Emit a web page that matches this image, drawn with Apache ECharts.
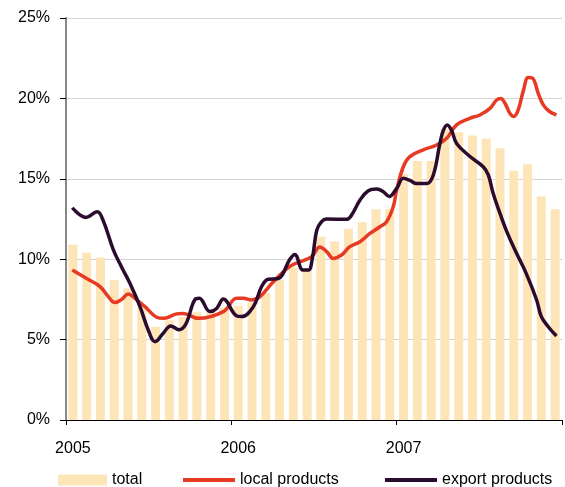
<!DOCTYPE html>
<html>
<head>
<meta charset="utf-8">
<script src="https://cdn.jsdelivr.net/npm/echarts@6/dist/echarts.min.js"></script>
<style>
	html, body { margin: 0; padding: 0; background: #fff; }
	#chart { width: 565px; height: 487px; }
</style>
</head>
<body>
<div id="chart"></div>
<script>
	'use strict';

	// monthly categories, 2005-2007
	var years = ['2005', '2006', '2007'];
	var months = [];
	years.forEach(function(y) {
		for (var m = 1; m <= 12; m++) {
			months.push(y + '-' + (m < 10 ? '0' + m : m));
		}
	});

	// TOTAL (bars, %)
	var totalValues = [10.9, 10.4, 10.1, 8.7, 8.2, 7.1, 5.8, 6.2, 6.4, 6.7, 6.7, 7.0,
		7.1, 7.3, 7.9, 8.7, 9.5, 9.3, 11.4, 11.1, 11.9, 12.3, 13.1, 13.1,
		15.3, 16.1, 16.1, 18.1, 17.9, 17.7, 17.5, 16.9, 15.5, 15.9, 13.9, 13.1];

	// LOCAL PRODUCTS (position in months from Jan 2005, %)
	var localMonths = [0.46, 1.5, 2.47, 3.07, 3.56, 4.04, 4.52, 5.0, 5.73, 6.58, 7.1, 8.03, 8.5, 9.6,
		11.42, 12.39, 12.87, 13.47, 14.08, 15.05, 16.25, 16.98, 17.83, 18.43, 18.92, 19.4, 20.0,
		20.6, 21.34, 22.06, 22.79, 23.27, 23.75, 24.0, 24.48, 24.96, 25.93, 26.9, 27.63, 28.35,
		29.3, 30.04, 30.77, 31.25, 31.55, 31.86, 32.22, 32.5, 32.82, 33.2, 33.55, 33.87, 34.28,
		34.64, 35.12, 35.6];
	var localValues = [9.33, 8.8, 8.3, 7.67, 7.3, 7.5, 7.84, 7.57, 7.05, 6.39, 6.32, 6.6, 6.63, 6.32,
		6.74, 7.57, 7.57, 7.46, 7.67, 8.6, 9.55, 9.84, 10.16, 10.76, 10.47, 10.05, 10.26,
		10.78, 11.09, 11.6, 12.02, 12.33, 13.26, 14.3, 15.75, 16.38, 16.8, 17.1, 17.52, 18.35,
		18.76, 18.97, 19.38, 19.9, 20.0, 19.7, 19.07, 18.87, 19.28, 20.5, 21.3, 21.25, 20.3,
		19.6, 19.17, 18.97];

	// EXPORT PRODUCTS
	var exportMonths = [0.46, 1.45, 2.27, 2.7, 3.43, 4.04, 4.64, 5.37, 5.97, 6.46, 7.06, 7.6, 8.2,
		8.7, 9.36, 9.67, 10.45, 10.93, 11.42, 12.39, 12.75, 13.6, 14.2, 14.68, 15.4, 16.25,
		16.6, 17.2, 17.6, 17.9, 18.2, 18.55, 18.9, 20.37, 20.73, 21.34, 21.94, 22.55, 23.03,
		23.45, 24.0, 24.48, 24.96, 25.45, 26.17, 26.66, 27.14, 27.38, 27.67, 27.99, 28.35,
		29.3, 30.28, 30.65, 31.0, 31.5, 32.0, 32.7, 33.4, 34.16, 34.5, 35.0, 35.6];
	var exportValues = [13.2, 12.6, 12.95, 12.4, 10.6, 9.5, 8.5, 7.05, 5.6, 4.87, 5.4, 5.85, 5.62,
		5.97, 7.5, 7.57, 6.74, 6.94, 7.52, 6.47, 6.43, 7.05, 8.3, 8.75, 8.8, 10.0,
		10.3, 9.33, 9.33, 10.16, 11.8, 12.33, 12.5, 12.48, 12.75, 13.68, 14.26, 14.37, 14.2,
		13.9, 14.4, 15.03, 14.9, 14.7, 14.7, 15.24, 17.2, 18.0, 18.35, 18.0, 17.2,
		16.4, 15.75, 15.24, 14.1, 12.85, 11.7, 10.37, 9.12, 7.46, 6.43, 5.8, 5.22];

	function pairs(xs, ys) {
		return xs.map(function(x, i) { return [x, ys[i]]; });
	}

	var chart = echarts.init(document.getElementById('chart'));
	var font = 'Liberation Sans, Arial, sans-serif';
	var legendText = { fontSize: 16, color: '#000', fontFamily: font };
	var option = {
		animation: false,
		textStyle: { fontFamily: font },
		grid: {
			top: 18,
			right: 3,
			bottom: 67,
			left: 66
		},
		legend: [{
			data: ['total'],
			left: 58,
			top: 472,
			padding: 0,
			itemWidth: 49,
			itemHeight: 11,
			icon: 'rect',
			textStyle: legendText
		}, {
			data: ['local products'],
			left: 183,
			top: 472,
			padding: 0,
			itemWidth: 52,
			itemHeight: 4,
			icon: 'rect',
			textStyle: legendText
		}, {
			data: ['export products'],
			left: 385,
			top: 472,
			padding: 0,
			itemWidth: 52,
			itemHeight: 4,
			icon: 'rect',
			textStyle: legendText
		}],
		xAxis: [{
			type: 'category',
			data: months,
			boundaryGap: true,
			axisLine: { lineStyle: { color: '#000', width: 1 } },
			axisTick: { show: true, alignWithLabel: false, interval: 11, length: 5, lineStyle: { color: '#000' } },
			axisLabel: {
				interval: 11,
				margin: 21,
				fontSize: 16,
				color: '#000',
				formatter: function(v) { return v.slice(0, 4); }
			}
		}, {
			type: 'value',
			min: 0,
			max: 36,
			show: false
		}],
		yAxis: {
			type: 'value',
			min: 0,
			max: 25,
			interval: 5,
			axisLine: { show: true, lineStyle: { color: '#888', width: 2 } },
			axisTick: { show: true, length: 6, lineStyle: { color: '#000' } },
			axisLabel: {
				margin: 16,
				fontSize: 16,
				color: '#000',
				formatter: '{value}%'
			},
			splitLine: { lineStyle: { color: '#d4d4d4', width: 1 } }
		},
		series: [{
			name: 'total',
			type: 'bar',
			data: totalValues,
			barWidth: 9,
			itemStyle: { color: '#fde5b8' }
		}, {
			name: 'local products',
			type: 'line',
			xAxisIndex: 1,
			smooth: 0.4,
			showSymbol: false,
			data: pairs(localMonths, localValues),
			lineStyle: { color: '#e63a22', width: 3.5 },
			itemStyle: { color: '#e63a22' }
		}, {
			name: 'export products',
			type: 'line',
			xAxisIndex: 1,
			smooth: 0.4,
			showSymbol: false,
			data: pairs(exportMonths, exportValues),
			lineStyle: { color: '#2b0b2e', width: 3.5 },
			itemStyle: { color: '#2b0b2e' }
		}]
	};
	chart.setOption(option);
</script>
</body>
</html>
